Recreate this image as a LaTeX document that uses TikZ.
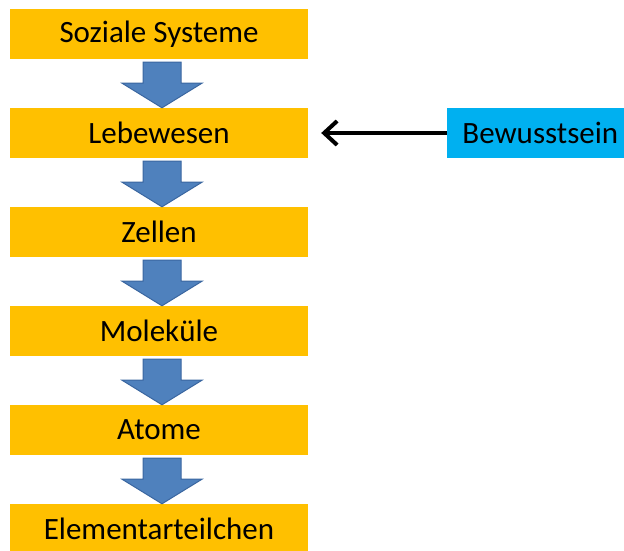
\documentclass[tikz,border=0pt]{standalone}
\usepackage{fontspec}
\setmainfont{Carlito}
\usepackage{tikz}
\usetikzlibrary{positioning, arrows.meta}
\definecolor{stufeorange}{HTML}{FFC000}
\definecolor{bewusstblau}{HTML}{00B0F0}
\definecolor{pfeilblau}{HTML}{4F81BD}
\definecolor{pfeilrand}{HTML}{3A66A0}

\begin{document}
\begin{tikzpicture}[
        x=1pt, y=1pt,
        stufe/.style={fill=stufeorange, minimum width=298pt, minimum height=50pt,
          inner sep=0pt, font=\fontsize{31}{34}\selectfont},
        bewusst/.style={fill=bewusstblau, minimum height=50pt, inner xsep=15pt,
          inner ysep=0pt, font=\fontsize{31}{34}\selectfont},
        blockpfeil/.style={fill=pfeilblau, draw=pfeilrand, line width=1pt, line join=miter},
        verweis/.style={line width=4pt, -{Straight Barb[length=13pt,width=24pt]}, shorten >=13pt},
        node distance=48.6pt
      ]
      \useasboundingbox (0,0) rectangle (624,-551);
      \node[stufe] (s1) at (159,-34) {Soziale Systeme};
      \node[stufe, below=of s1] (s2) {Lebewesen};
      \node[stufe, below=of s2] (s3) {Zellen};
      \node[stufe, below=of s3] (s4) {Moleküle};
      \node[stufe, below=of s4] (s5) {Atome};
      \node[stufe, below=of s5] (s6) {Elementarteilchen};
      \node[bewusst, right=139pt of s2] (bw) {Bewusstsein};
      \foreach\a/\b in {s1/s2,s2/s3,s3/s4,s4/s5,s5/s6}{
        \draw[blockpfeil] ([shift={(-16,-3)}]\a.south) -- ([shift={(22,-3)}]\a.south)
          -- ([shift={(22,-24)}]\a.south) -- ([shift={(43,-24)}]\a.south)
          -- ([xshift=3pt]\b.north) -- ([shift={(-37,-24)}]\a.south)
          -- ([shift={(-16,-24)}]\a.south) -- cycle;
      }
      \draw[verweis] (bw.west) -- (s2.east);
    \end{tikzpicture}
\end{document}
